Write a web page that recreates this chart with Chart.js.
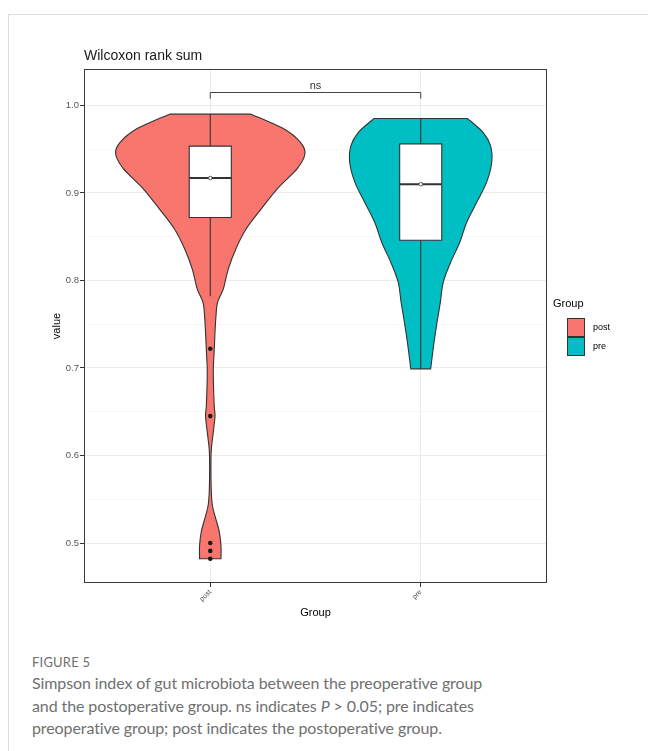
<!DOCTYPE html>
<html>
<head>
<meta charset="utf-8">
<script src="https://cdn.jsdelivr.net/npm/chart.js@4.4.1/dist/chart.umd.min.js"></script>
<style>
  html, body { margin: 0; padding: 0; background: #fff; }
  body { width: 648px; height: 751px; position: relative; overflow: hidden; }
  .frame { position: absolute; left: 8px; top: 14px; width: 700px; height: 800px;
           border-top: 1px solid #dedede; border-left: 1px solid #dedede; }
  #wrap { position: absolute; left: 0; top: 0; width: 648px; height: 630px; }
  .figlabel { position: absolute; left: 32px; top: 654px; font-family: Lato, 'Open Sans', sans-serif;
              font-size: 13px; line-height: 16px; color: #707070; letter-spacing: 0.2px; }
  .caption { position: absolute; left: 32px; top: 672px; width: 610px; margin: 0;
             font-family: Lato, 'Open Sans', sans-serif; font-size: 16px; line-height: 22.5px;
             letter-spacing: -0.1px; color: #707070; white-space: nowrap; }
</style>
</head>
<body>
<div class="frame"></div>
<div id="wrap"><canvas id="chartViolin" width="648" height="630"></canvas></div>
<div class="figlabel">FIGURE 5</div>
<p class="caption">Simpson index of gut microbiota between the preoperative group<br>and the postoperative group. ns indicates <i>P</i> &gt; 0.05; pre indicates<br>preoperative group; post indicates the postoperative group.</p>
<script>
// groups
var groups = ['post', 'pre'];
var groupColors = ['#F8766D', '#00BFC4'];

// violin outlines: value levels and relative half-width (1 = widest)
var postLevels  = [0.99, 0.973, 0.958, 0.945, 0.928, 0.905, 0.882, 0.859, 0.836, 0.813, 0.79, 0.775, 0.759, 0.741,
                   0.721, 0.699, 0.676, 0.656, 0.645, 0.627, 0.607, 0.588, 0.558, 0.542, 0.527, 0.513, 0.497, 0.482];
var postDensity = [0.43, 0.78, 0.95, 1.0, 0.92, 0.71, 0.54, 0.38, 0.27, 0.19, 0.137, 0.077, 0.06, 0.05,
                   0.042, 0.032, 0.035, 0.042, 0.05, 0.032, 0.011, 0.007, 0.011, 0.024, 0.06, 0.095, 0.113, 0.113];
var preLevels   = [0.985, 0.969, 0.954, 0.935, 0.912, 0.889, 0.866, 0.843, 0.82, 0.798, 0.775, 0.752, 0.729, 0.699];
var preDensity  = [0.495, 0.66, 0.737, 0.75, 0.695, 0.59, 0.484, 0.41, 0.313, 0.238, 0.207, 0.172, 0.14, 0.105];

// box plot stats (post, pre)
var boxQ1       = [0.872, 0.846];
var boxMedian   = [0.917, 0.910];
var boxQ3       = [0.9535, 0.956];
var whiskerLow  = [0.782, 0.699];
var whiskerHigh = [0.99, 0.985];
var centerDots  = [0.917, 0.910];
var postOutliers = [0.722, 0.645, 0.5, 0.491, 0.482];

// axis ticks
var yMajorTicks = [0.5, 0.6, 0.7, 0.8, 0.9, 1.0];
var yMinorTicks = [0.55, 0.65, 0.75, 0.85, 0.95];

// significance bracket
var bracketLevels = [1.0152, 1.0076];
var bracketLabel = 'ns';

var FONT = "'Liberation Sans', Arial, Helvetica, sans-serif";
Chart.defaults.font.family = FONT;

function smoothLine(ctx, pts) {
    for (var i = 0; i < pts.length - 1; i++) {
        var p0 = pts[i - 1] || pts[i], p1 = pts[i], p2 = pts[i + 1], p3 = pts[i + 2] || pts[i + 1];
        ctx.bezierCurveTo(p1[0] + (p2[0] - p0[0]) / 6, p1[1] + (p2[1] - p0[1]) / 6,
                          p2[0] - (p3[0] - p1[0]) / 6, p2[1] - (p3[1] - p1[1]) / 6, p2[0], p2[1]);
    }
}

var violinPlugin = {
    id: 'violins',
    beforeDatasetsDraw: function (chart) {
        var ctx = chart.ctx, xs = chart.scales.x, ys = chart.scales.y;
        var shapes = [[postLevels, postDensity], [preLevels, preDensity]];
        shapes.forEach(function (s, g) {
            var c = g + 1;
            var right = s[0].map(function (v, i) { return [xs.getPixelForValue(c + s[1][i] * 0.45), ys.getPixelForValue(v)]; });
            var left = s[0].map(function (v, i) { return [xs.getPixelForValue(c - s[1][i] * 0.45), ys.getPixelForValue(v)]; }).reverse();
            ctx.save();
            ctx.beginPath();
            ctx.moveTo(right[0][0], right[0][1]);
            smoothLine(ctx, right);
            ctx.lineTo(left[0][0], left[0][1]);
            smoothLine(ctx, left);
            ctx.closePath();
            ctx.fillStyle = groupColors[g];
            ctx.fill();
            ctx.lineWidth = 1.1;
            ctx.strokeStyle = '#333333';
            ctx.lineJoin = 'round';
            ctx.stroke();

            // whiskers
            var xc = xs.getPixelForValue(c);
            ctx.beginPath();
            ctx.moveTo(xc, ys.getPixelForValue(whiskerHigh[g]));
            ctx.lineTo(xc, ys.getPixelForValue(boxQ3[g]));
            ctx.moveTo(xc, ys.getPixelForValue(boxQ1[g]));
            ctx.lineTo(xc, ys.getPixelForValue(whiskerLow[g]));
            ctx.stroke();

            // box
            var bl = xs.getPixelForValue(c - 0.1), br = xs.getPixelForValue(c + 0.1);
            var bt = ys.getPixelForValue(boxQ3[g]), bb = ys.getPixelForValue(boxQ1[g]);
            ctx.fillStyle = '#ffffff';
            ctx.fillRect(bl, bt, br - bl, bb - bt);
            ctx.strokeRect(bl, bt, br - bl, bb - bt);
            ctx.beginPath();
            ctx.lineWidth = 2;
            ctx.moveTo(bl, ys.getPixelForValue(boxMedian[g]));
            ctx.lineTo(br, ys.getPixelForValue(boxMedian[g]));
            ctx.stroke();
            ctx.restore();
        });
    },
    afterDatasetsDraw: function (chart) {
        var ctx = chart.ctx, a = chart.chartArea, xs = chart.scales.x, ys = chart.scales.y;
        ctx.save();
        // panel border
        ctx.strokeStyle = '#3a3a3a';
        ctx.lineWidth = 1;
        ctx.strokeRect(a.left + 0.5, a.top + 0.5, a.right - a.left - 1, a.bottom - a.top - 1);

        // bracket
        var x1 = xs.getPixelForValue(1), x2 = xs.getPixelForValue(2);
        var yT = Math.round(ys.getPixelForValue(bracketLevels[0])) + 0.5, yF = ys.getPixelForValue(bracketLevels[1]);
        ctx.strokeStyle = '#444444';
        ctx.beginPath();
        ctx.moveTo(x1, yF); ctx.lineTo(x1, yT); ctx.lineTo(x2, yT); ctx.lineTo(x2, yF);
        ctx.stroke();
        ctx.fillStyle = '#333333';
        ctx.font = '11px ' + FONT;
        ctx.textAlign = 'center';
        ctx.textBaseline = 'alphabetic';
        ctx.fillText(bracketLabel, (x1 + x2) / 2, yT - 4);

        // title
        ctx.fillStyle = '#1a1a1a';
        ctx.font = '14px ' + FONT;
        ctx.textAlign = 'left';
        ctx.fillText('Wilcoxon rank sum', a.left, a.top - 9);

        // legend
        var lx = a.right + 6, ly = a.top + 235;
        ctx.fillStyle = '#000';
        ctx.font = '11px ' + FONT;
        ctx.textBaseline = 'middle';
        ctx.fillText('Group', lx, ly);
        groups.forEach(function (name, i) {
            var ky = ly + 14 + i * 19;
            ctx.fillStyle = groupColors[i];
            ctx.fillRect(lx + 14, ky, 18, 19);
            ctx.strokeStyle = '#333333';
            ctx.strokeRect(lx + 14.5, ky + 0.5, 17, 18);
            ctx.fillStyle = '#000';
            ctx.font = '9px ' + FONT;
            ctx.fillText(name, lx + 40, ky + 10);
        });
        ctx.restore();
    }
};

document.addEventListener('DOMContentLoaded', function () {
    var canvas = document.getElementById('chartViolin');
    new Chart(canvas.getContext('2d'), {
        type: 'scatter',
        data: {
            datasets: [{
                label: 'outliers',
                data: postOutliers.map(function (v) { return {x: 1, y: v}; }),
                pointRadius: 2.3, backgroundColor: '#1a1a1a', borderColor: '#1a1a1a', borderWidth: 0
            }, {
                label: 'centre',
                data: centerDots.map(function (v, i) { return {x: i + 1, y: v}; }),
                pointRadius: 1.8, backgroundColor: '#ffffff', borderColor: '#333333', borderWidth: 0.8
            }]
        },
        options: {
            responsive: false,
            animation: false,
            devicePixelRatio: 1,
            layout: { padding: { left: 0, top: 69, right: 101, bottom: 0 } },
            plugins: { legend: { display: false }, tooltip: { enabled: false }, title: { display: false } },
            scales: {
                x: {
                    type: 'linear', min: 0.4, max: 2.6,
                    afterBuildTicks: function (s) { s.ticks = groups.map(function (g, i) { return {value: i + 1}; }); },
                    afterFit: function (s) { s.height = 47; },
                    ticks: {
                        callback: function (v) { return groups[v - 1]; },
                        minRotation: 45, maxRotation: 45, autoSkip: false,
                        font: { size: 7 }, color: '#4d4d4d', padding: 1
                    },
                    grid: { color: '#ebebeb', lineWidth: 1, tickLength: 4, tickColor: '#333333' },
                    border: { display: false },
                    title: { display: true, text: 'Group', color: '#000', font: { size: 11 }, padding: { top: 0, bottom: 10 } }
                },
                y: {
                    type: 'linear', min: 0.4543, max: 1.0416,
                    afterBuildTicks: function (s) {
                        s.ticks = yMinorTicks.concat(yMajorTicks).sort().map(function (v) { return {value: v}; });
                    },
                    afterFit: function (s) { s.width = 84; },
                    ticks: {
                        callback: function (v) { return yMajorTicks.indexOf(v) >= 0 ? v.toFixed(1) : ''; },
                        autoSkip: false, font: { size: 9.5 }, color: '#555555', padding: 1
                    },
                    grid: {
                        color: function (c) { return yMajorTicks.indexOf(c.tick && c.tick.value) >= 0 ? '#ebebeb' : '#f4f4f4'; },
                        lineWidth: function (c) { return yMajorTicks.indexOf(c.tick && c.tick.value) >= 0 ? 1 : 0.7; },
                        tickLength: 4,
                        tickColor: function (c) { return yMajorTicks.indexOf(c.tick && c.tick.value) >= 0 ? '#333333' : 'rgba(0,0,0,0)'; }
                    },
                    border: { display: false },
                    title: { display: true, text: 'value', color: '#000', font: { size: 11 }, padding: { top: 50, bottom: 0 } }
                }
            }
        },
        plugins: [violinPlugin]
    });
});
</script>
</body>
</html>
